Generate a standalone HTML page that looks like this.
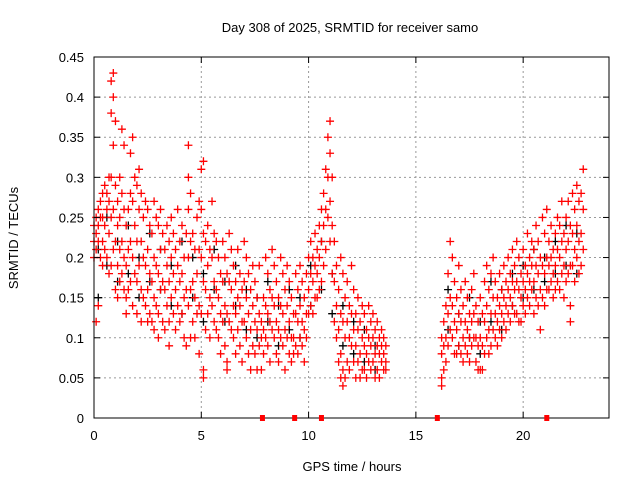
<!DOCTYPE html>
<html><head><meta charset="utf-8"><style>
body{margin:0;background:#fff}
svg{display:block;font-family:"Liberation Sans",sans-serif}
</style></head><body>
<svg id="chart" width="640" height="480" viewBox="0 0 640 480">
<rect width="640" height="480" fill="#fff"/>
<text x="350" y="32" font-size="13" text-anchor="middle" fill="#000">Day 308 of 2025, SRMTID for receiver samo</text>
<text x="352" y="471" font-size="13" text-anchor="middle" fill="#000">GPS time / hours</text>
<text x="0" y="0" font-size="13" text-anchor="middle" fill="#000" transform="translate(18,238) rotate(-90)">SRMTID / TECUs</text>
<g id="grid"></g>
<g id="marks"></g>
<rect x="94" y="57" width="515" height="361" fill="none" stroke="#000" stroke-width="1"/>
<g id="axes"></g>
</svg>
<script>
const xTicks=[0,5,10,15,20];
const yTicks=[0,0.05,0.1,0.15,0.2,0.25,0.3,0.35,0.4,0.45];
const yTickLabels=["0","0.05","0.1","0.15","0.2","0.25","0.3","0.35","0.4","0.45"];
const gapTimes=[7.85,9.35,10.6,16.0,21.1];
const redT=[0,0.1,0.2,0.3,0.4,0.5,0.6,0.7,0.8,0.9,1.0,1.1,1.2,1.3,1.4,1.5,1.6,1.7,1.8,1.9,2.0,2.1,2.2,2.3,2.4,2.5,2.6,2.7,2.8,2.9,3.0,3.1,3.2,3.3,3.4,3.5,3.6,3.7,3.8,3.9,4.0,4.1,4.2,4.3,4.4,4.5,4.6,4.7,4.8,4.9,5.0,5.1,5.2,5.3,5.4,5.5,5.6,5.7,5.8,5.9,6.0,6.1,6.2,6.3,6.4,6.5,6.6,6.7,6.8,6.9,7.0,7.1,7.2,7.3,7.4,7.5,7.6,7.7,7.8,7.9,8.0,8.1,8.2,8.3,8.4,8.5,8.6,8.7,8.8,8.9,9.0,9.1,9.2,9.3,9.4,9.5,9.6,9.7,9.8,9.9,10.0,10.1,10.2,10.3,10.4,10.5,10.6,10.7,10.8,10.9,11.0,11.1,11.2,11.3,11.4,11.5,11.6,11.7,11.8,11.9,12.0,12.1,12.2,12.3,12.4,12.5,12.6,12.7,12.8,12.9,13.0,13.1,13.2,13.3,13.4,13.5,13.6,16.2,16.3,16.4,16.5,16.6,16.7,16.8,16.9,17.0,17.1,17.2,17.3,17.4,17.5,17.6,17.7,17.8,17.9,18.0,18.1,18.2,18.3,18.4,18.5,18.6,18.7,18.8,18.9,19.0,19.1,19.2,19.3,19.4,19.5,19.6,19.7,19.8,19.9,20.0,20.1,20.2,20.3,20.4,20.5,20.6,20.7,20.8,20.9,21.0,21.1,21.2,21.3,21.4,21.5,21.6,21.7,21.8,21.9,22.0,22.1,22.2,22.3,22.4,22.5,22.6,22.7,22.8];
const redV=[[.22,.24,.20],[.23,.12,.25,.21],[.24,.14,.26,.22],[.27,.20,.25],[.28,.22,.19,.25],[.29,.24,.21],[.28,.20,.26],[.30,.23,.18,.27],[.42,.38,.30,.25,.19],[.43,.40,.34,.26,.21],[.37,.29,.22,.16],[.27,.24,.19,.15],[.30,.25,.21,.17],[.36,.28,.22,.18],[.34,.26,.20,.16],[.24,.19,.15,.13],[.26,.21,.16],[.33,.28,.22,.17],[.35,.27,.20,.14],[.30,.24,.18],[.29,.22,.17,.13],[.31,.26,.19],[.28,.22,.16,.12],[.25,.20,.15],[.27,.19,.14],[.26,.21,.16,.12],[.24,.18,.13],[.23,.17,.12],[.27,.20,.15,.11],[.25,.19,.14],[.24,.18,.13,.10],[.26,.21,.16],[.23,.17,.12],[.21,.16,.11],[.24,.19,.14],[.22,.17,.12,.09],[.25,.20,.15],[.23,.18,.13],[.21,.16,.11],[.26,.19,.14],[.22,.17,.12],[.24,.18,.13],[.20,.15,.10],[.23,.16,.09],[.34,.30,.26,.20,.14],[.28,.22,.16,.10],[.23,.17,.12],[.21,.15,.10],[.25,.18,.13],[.27,.21,.14,.08],[.31,.26,.20,.13],[.32,.23,.17,.06,.05],[.22,.16,.11],[.24,.19,.13],[.21,.15,.10],[.27,.20,.14],[.23,.17,.12],[.22,.16,.11],[.20,.15,.10],[.18,.13,.08],[.22,.17,.12],[.20,.14,.09],[.18,.13,.07,.06],[.23,.17,.12],[.21,.16,.11],[.19,.14,.10],[.17,.13,.08],[.21,.15,.11],[.18,.14,.09],[.16,.12,.07],[.22,.17,.12],[.20,.15,.10],[.18,.13,.08],[.16,.11,.06],[.19,.14,.09],[.17,.12,.08],[.15,.11,.06],[.19,.13,.09],[.12,.10,.06],[.15,.11,.08],[.20,.14,.10],[.18,.13,.09],[.16,.12,.07],[.21,.15,.11],[.19,.14,.10],[.17,.12,.08],[.15,.11,.07],[.20,.14,.10],[.18,.13,.09],[.16,.11,.06],[.19,.14,.10],[.17,.12,.08],[.15,.10,.07],[.13,.10,.08],[.18,.13,.09],[.16,.12,.08],[.19,.14,.10],[.17,.12,.09],[.15,.11,.07],[.18,.13,.10],[.20,.16,.13],[.22,.18,.14],[.20,.17,.13],[.23,.19,.15],[.21,.18,.15],[.24,.20,.16],[.26,.22,.17],[.28,.24,.19],[.31,.26,.21],[.35,.30,.25],[.37,.33,.27,.22],[.30,.24,.18],[.22,.17,.12],[.19,.14,.10],[.16,.11,.07],[.20,.13,.08,.05],[.18,.12,.06,.04],[.15,.10,.05],[.17,.12,.07],[.14,.10,.06],[.19,.13,.09],[.16,.11,.07],[.13,.09,.05],[.15,.11,.07],[.12,.08,.05],[.14,.10,.06],[.13,.09,.06],[.11,.08,.05],[.14,.10,.07],[.12,.09,.06],[.13,.10,.07],[.11,.08,.05],[.12,.09,.06],[.10,.08,.05],[.11,.09,.07],[.10,.08,.06],[.09,.07,.06],[.10,.08,.05,.04],[.12,.09,.06],[.14,.10,.07],[.18,.13,.09],[.22,.15,.11],[.20,.14,.10],[.17,.12,.08],[.15,.11,.08],[.19,.13,.09],[.16,.12,.08],[.14,.10,.07],[.17,.12,.09],[.15,.11,.08],[.13,.10,.07],[.16,.12,.09],[.18,.13,.10],[.14,.10,.07],[.12,.09,.06],[.15,.10,.06],[.13,.09,.06],[.17,.12,.08],[.19,.14,.10],[.16,.11,.08],[.18,.13,.09],[.20,.15,.11],[.17,.13,.10],[.15,.12,.09],[.18,.14,.11],[.16,.13,.10],[.19,.15,.12],[.17,.14,.11],[.20,.16,.13],[.18,.15,.12],[.21,.17,.14],[.19,.16,.13],[.22,.17,.13],[.20,.16,.12],[.18,.15,.12],[.21,.17,.14],[.19,.16,.13],[.23,.18,.15],[.20,.17,.14],[.22,.19,.16],[.21,.17,.13],[.24,.19,.15],[.22,.18,.14],[.20,.16,.11],[.25,.19,.15],[.23,.18,.14],[.26,.20,.16],[.22,.19,.16],[.24,.20,.17],[.21,.18,.15],[.23,.19,.16],[.25,.21,.17],[.24,.20,.16],[.27,.22,.18],[.23,.19,.15],[.25,.21,.17],[.27,.22,.18],[.24,.19,.14,.12],[.28,.23,.19],[.26,.21,.17],[.29,.24,.20],[.27,.22,.18],[.28,.23,.19],[.31,.26,.21]];
const blackT=[0.2,0.6,1.1,1.6,2.1,2.6,3.1,3.6,4.1,4.6,5.1,5.6,6.1,6.6,7.1,7.6,8.1,8.6,9.1,9.6,10.1,10.6,11.1,11.6,12.1,12.6,13.1,16.5,17.0,17.5,18.0,18.5,19.0,19.5,20.0,20.5,21.0,21.5,22.0,22.5];
const blackV=[[.21,.15],[.25,.19],[.22,.17],[.24,.18],[.20,.15],[.23,.17],[.21,.16],[.19,.14],[.22,.13],[.20,.15],[.18,.12],[.21,.16],[.17,.12],[.19,.14],[.16,.11],[.15,.10],[.17,.12],[.14,.09],[.16,.11],[.15,.10],[.19,.14],[.22,.16],[.18,.13],[.14,.09],[.12,.08],[.11,.07],[.09,.06],[.16,.11],[.13,.09],[.15,.10],[.12,.08],[.17,.12],[.16,.11],[.18,.14],[.19,.15],[.21,.16],[.20,.17],[.22,.18],[.24,.19],[.23,.18]];
const X0=94,X1=609,Y0=418,Y1=57,XMAX=24,YMAX=0.45;
function xs(t){return X0+(X1-X0)*t/XMAX;}
function ys(v){return Y0-(Y0-Y1)*v/YMAX;}
const NS="http://www.w3.org/2000/svg";
const grid=document.getElementById('grid'),axes=document.getElementById('axes'),marks=document.getElementById('marks');
function mk(tag,attrs,parent){const e=document.createElementNS(NS,tag);for(const k in attrs)e.setAttribute(k,attrs[k]);parent.appendChild(e);return e;}
xTicks.forEach(t=>{const x=xs(t);
 if(t>0){const g=mk('line',{x1:x,y1:Y0,x2:x,y2:Y1,stroke:'#999','stroke-dasharray':'2,3'},grid);
 
 }
 mk('line',{x1:x,y1:Y0,x2:x,y2:Y0-6,stroke:'#000'},axes);
 mk('line',{x1:x,y1:Y1,x2:x,y2:Y1+6,stroke:'#000'},axes);
 const l=mk('text',{x:x,y:Y0+22,'font-size':13,'text-anchor':'middle'},axes);l.textContent=String(t);
 
 
});
yTicks.forEach((v,i)=>{const y=ys(v);
 if(v>0&&v<YMAX){const g=mk('line',{x1:X0,y1:y,x2:X1,y2:y,stroke:'#999','stroke-dasharray':'2,3'},grid);
 
 }
 mk('line',{x1:X0,y1:y,x2:X0+6,y2:y,stroke:'#000'},axes);
 mk('line',{x1:X1,y1:y,x2:X1-6,y2:y,stroke:'#000'},axes);
 const l=mk('text',{x:X0-10,y:y+5,'font-size':13,'text-anchor':'end'},axes);l.textContent=yTickLabels[i];
 
 
});
function plus(t,v,color,name){const x=xs(t),y=ys(v);
 const p=mk('path',{d:`M${x-4},${y}h8M${x},${y-4}v8`,stroke:color,'stroke-width':1.3,fill:'none'},marks);
 
 
}
blackT.forEach((t,i)=>blackV[i].forEach(v=>plus(t,v,'#000','black-point')));
redT.forEach((t,i)=>redV[i].forEach(v=>plus(t,v,'#f00','red-point')));
gapTimes.forEach(t=>{const r=mk('rect',{x:xs(t)-2.5,y:Y0-3,width:5,height:6,fill:'#f00'},axes);
 
 
});
</script>
</body></html>
